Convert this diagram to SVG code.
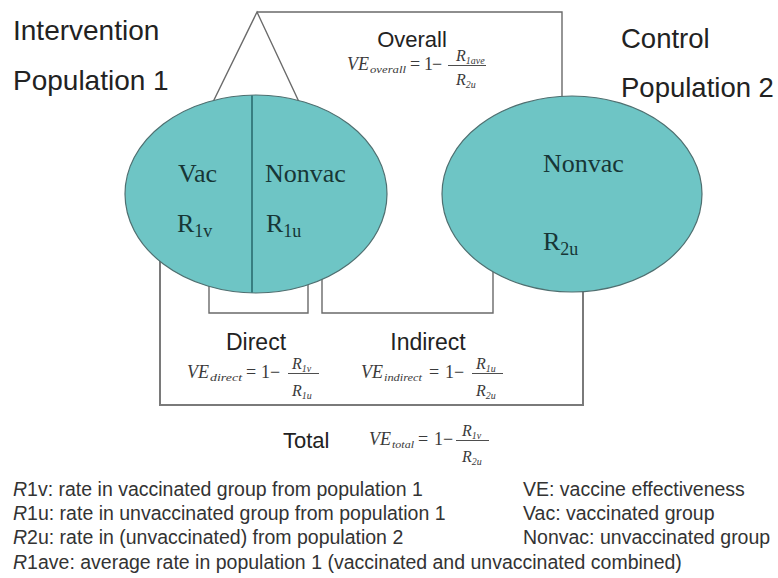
<svg xmlns="http://www.w3.org/2000/svg" width="778" height="578" viewBox="0 0 778 578">
<defs>
<style>
.bg{fill:#ffffff}
.ell{fill:#6ec5c5;stroke:#4f6f70;stroke-width:1.2}
.div{stroke:#2b6c70;stroke-width:1.6;fill:none}
.con{fill:none;stroke:#6a6a6a;stroke-width:1.4}
.box{fill:none;stroke:#7a7a7a;stroke-width:2}
.head{font-family:"Liberation Sans",Arial,sans-serif;font-size:28px;fill:#222}
.lab{font-family:"Liberation Sans",Arial,sans-serif;font-size:23px;fill:#222}
.nt{font-family:"Liberation Serif","Times New Roman",serif;font-size:26px;fill:#173636}
.ns{font-family:"Liberation Serif","Times New Roman",serif;font-size:18px;fill:#173636}
.fv{font-family:"Liberation Serif","Times New Roman",serif;font-size:18px;font-style:italic;fill:#3a3a3a}
.fs{font-family:"Liberation Serif","Times New Roman",serif;font-size:11px;font-style:italic;fill:#3a3a3a}
.fo{font-family:"Liberation Serif","Times New Roman",serif;font-size:18px;fill:#3a3a3a}
.fr{font-family:"Liberation Serif","Times New Roman",serif;font-size:16px;font-style:italic;fill:#3a3a3a}
.frs{font-family:"Liberation Serif","Times New Roman",serif;font-size:10px;fill:#3a3a3a}
.bar{stroke:#3a3a3a;stroke-width:0.9}
.leg{font-family:"Liberation Sans",Arial,sans-serif;font-size:19.5px;fill:#333}
.it{font-style:italic}
</style>
</defs>
<rect class="bg" x="0" y="0" width="778" height="578"/>

<g id="connectors">
  <path class="con" d="M212,104 L257,12 L300,104"/>
  <path class="con" d="M257,12 H562 V100"/>
  <path class="con" d="M209,282 V313 H308 V282"/>
  <path class="con" d="M322,276 V313 H493 V268"/>
  <path class="box" d="M160,255 V405 H583 V288"/>
</g>

<g id="population1">
  <ellipse class="ell" cx="256" cy="194" rx="131" ry="99"/>
  <line class="div" x1="252" y1="95.5" x2="252" y2="292.5"/>
  <text class="nt" x="178" y="182">Vac</text>
  <text class="nt" x="265" y="182">Nonvac</text>
  <text class="nt" x="177" y="232">R<tspan class="ns" dy="5">1v</tspan></text>
  <text class="nt" x="266" y="232">R<tspan class="ns" dy="5">1u</tspan></text>
</g>

<g id="population2">
  <ellipse class="ell" cx="572" cy="194" rx="130" ry="98"/>
  <text class="nt" x="543" y="172">Nonvac</text>
  <text class="nt" x="543" y="250">R<tspan class="ns" dy="5">2u</tspan></text>
</g>

<g id="headings">
  <text class="head" x="13" y="40">Intervention</text>
  <text class="head" x="13" y="90">Population 1</text>
  <text class="head" x="621" y="48" style="font-size:27.5px">Control</text>
  <text class="head" x="621" y="97" style="font-size:27.5px">Population 2</text>
</g>

<g id="overall">
  <text class="lab" x="412" y="47" text-anchor="middle" style="font-size:22px">Overall</text>
  <text class="fv" x="347" y="70">VE</text>
  <text class="fs" x="370" y="73" textLength="36" lengthAdjust="spacingAndGlyphs">overall</text>
  <text class="fo" x="410" y="70">=</text>
  <text class="fo" x="424" y="70">1</text>
  <text class="fo" x="432" y="70">−</text>
  <line class="bar" x1="448" y1="65.5" x2="486" y2="65.5"/>
  <text class="fr" x="456" y="61">R<tspan class="frs" dy="3">1</tspan><tspan class="frs it">ave</tspan></text>
  <text class="fr" x="456" y="85">R<tspan class="frs" dy="3">2</tspan><tspan class="frs it">u</tspan></text>
</g>

<g id="direct">
  <text class="lab" x="256" y="350" text-anchor="middle">Direct</text>
  <text class="fv" x="187" y="378">VE</text>
  <text class="fs" x="210" y="381" textLength="32" lengthAdjust="spacingAndGlyphs">direct</text>
  <text class="fo" x="246" y="378">=</text>
  <text class="fo" x="261" y="378">1</text>
  <text class="fo" x="270" y="378">−</text>
  <line class="bar" x1="288" y1="373.5" x2="319" y2="373.5"/>
  <text class="fr" x="292" y="369">R<tspan class="frs" dy="3">1</tspan><tspan class="frs it">v</tspan></text>
  <text class="fr" x="292" y="396">R<tspan class="frs" dy="3">1</tspan><tspan class="frs it">u</tspan></text>
</g>

<g id="indirect">
  <text class="lab" x="428" y="350" text-anchor="middle">Indirect</text>
  <text class="fv" x="361" y="378">VE</text>
  <text class="fs" x="384" y="381" textLength="38" lengthAdjust="spacingAndGlyphs">indirect</text>
  <text class="fo" x="429" y="378">=</text>
  <text class="fo" x="445" y="378">1</text>
  <text class="fo" x="454" y="378">−</text>
  <line class="bar" x1="472" y1="373.5" x2="503" y2="373.5"/>
  <text class="fr" x="476" y="369">R<tspan class="frs" dy="3">1</tspan><tspan class="frs it">u</tspan></text>
  <text class="fr" x="476" y="396">R<tspan class="frs" dy="3">2</tspan><tspan class="frs it">u</tspan></text>
</g>

<g id="total">
  <text class="lab" x="283" y="448" style="font-size:22px">Total</text>
  <text class="fv" x="369" y="445">VE</text>
  <text class="fs" x="392" y="448" textLength="22" lengthAdjust="spacingAndGlyphs">total</text>
  <text class="fo" x="418" y="445">=</text>
  <text class="fo" x="434" y="445">1</text>
  <text class="fo" x="443" y="445">−</text>
  <line class="bar" x1="456" y1="440.5" x2="489" y2="440.5"/>
  <text class="fr" x="462" y="436">R<tspan class="frs" dy="3">1</tspan><tspan class="frs it">v</tspan></text>
  <text class="fr" x="462" y="462">R<tspan class="frs" dy="3">2</tspan><tspan class="frs it">u</tspan></text>
</g>

<g id="legend">
  <text class="leg" x="13" y="496"><tspan class="it">R</tspan>1v: rate in vaccinated group from population 1</text>
  <text class="leg" x="13" y="520"><tspan class="it">R</tspan>1u: rate in unvaccinated group from population 1</text>
  <text class="leg" x="13" y="544"><tspan class="it">R</tspan>2u: rate in (unvaccinated) from population 2</text>
  <text class="leg" x="13" y="569"><tspan class="it">R</tspan>1ave: average rate in population 1 (vaccinated and unvaccinated combined)</text>
  <text class="leg" x="523" y="496">VE: vaccine effectiveness</text>
  <text class="leg" x="523" y="520">Vac: vaccinated group</text>
  <text class="leg" x="523" y="544">Nonvac: unvaccinated group</text>
</g>
</svg>
